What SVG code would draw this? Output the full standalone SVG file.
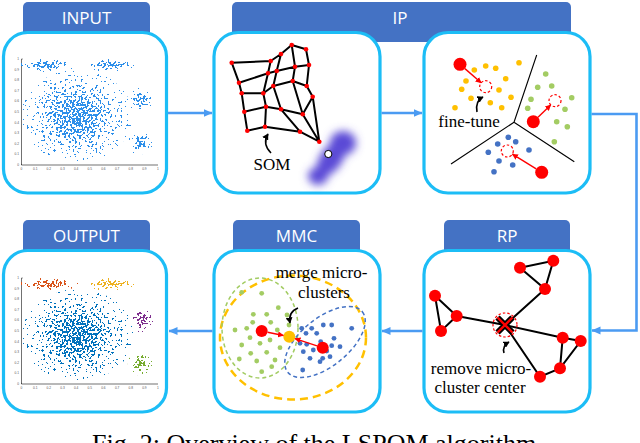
<svg xmlns="http://www.w3.org/2000/svg" width="640" height="443" viewBox="0 0 640 443">
<style>
.tab{fill:#4472C4}
.tabt{font-family:"Open Sans","Liberation Sans",sans-serif;font-size:17px;fill:#fff;text-anchor:middle}
.box{fill:#fff;stroke:#1CBDF6;stroke-width:3.2}
.con{fill:none;stroke:#4B9BF2;stroke-width:2.6}
.lab{font-size:17px;fill:#000;text-anchor:middle}
.ax{stroke:#333;stroke-width:0.7;fill:none}
.tk{font-family:"Liberation Sans",sans-serif;font-size:3.2px;fill:#555}
.tky{text-anchor:end}
.tkx{text-anchor:middle}
.som{fill:none;stroke:#000;stroke-width:2;stroke-linejoin:round}
.sn{fill:#F00}
.vl{stroke:#000;stroke-width:1.1}
.rd{fill:#F00}
.dc{fill:none;stroke:#F00;stroke-width:1.2;stroke-dasharray:2.5 2}
.ra{stroke:#F00;stroke-width:1.4;marker-end:url(#mr)}
.ca{fill:none;stroke:#000;stroke-width:1.6;marker-end:url(#mk)}
.od{fill:#FFC000}
.gd{fill:#A3CC63}
.bd{fill:#4472C4}
.eg{stroke:#000;stroke-width:2}
.cl{fill:url(#gA)}
</style>
<defs>
<marker id="ma" markerUnits="userSpaceOnUse" markerWidth="9" markerHeight="9" refX="8.5" refY="4.5" orient="auto"><path d="M0,0.5 L9,4.5 L0,8.5 z" fill="#4B9BF2"/></marker>
<marker id="mr" markerUnits="userSpaceOnUse" markerWidth="6" markerHeight="6" refX="5.5" refY="3" orient="auto"><path d="M0,0 L6,3 L0,6 z" fill="#F00"/></marker>
<marker id="mk" markerUnits="userSpaceOnUse" markerWidth="7" markerHeight="7" refX="5.5" refY="3.5" orient="auto"><path d="M0,0 L6,3.5 L0,7 z" fill="#000"/></marker>
<radialGradient id="gA"><stop offset="0" stop-color="#000" stop-opacity="1"/><stop offset=".35" stop-color="#000" stop-opacity=".72"/><stop offset=".6" stop-color="#000" stop-opacity=".4"/><stop offset=".85" stop-color="#000" stop-opacity=".16"/><stop offset="1" stop-color="#000" stop-opacity="0.06"/></radialGradient>
<filter id="sIn" filterUnits="userSpaceOnUse" x="0" y="0" width="640" height="443" color-interpolation-filters="sRGB">
<feTurbulence type="fractalNoise" baseFrequency="0.48" numOctaves="1" seed="7" result="n"/>
<feColorMatrix in="n" type="matrix" values="0 0 0 0 0  0 0 0 0 0  0 0 0 0 0  1 0 0 0 0" result="na"/>
<feComposite in="na" in2="SourceAlpha" operator="arithmetic" k2="1" k3="0.25" k4="-0.2" result="c"/>
<feComponentTransfer in="c" result="m"><feFuncA type="discrete" tableValues="0 1"/></feComponentTransfer>
<feComponentTransfer in="SourceAlpha" result="sa"><feFuncA type="linear" slope="40" intercept="-1"/></feComponentTransfer>
<feComposite in="m" in2="sa" operator="in" result="m2"/>
<feFlood flood-color="#2D8FEA"/>
<feComposite in2="m2" operator="in"/>
</filter>
<filter id="sBl" filterUnits="userSpaceOnUse" x="0" y="0" width="640" height="443" color-interpolation-filters="sRGB">
<feTurbulence type="fractalNoise" baseFrequency="0.48" numOctaves="1" seed="7" result="n"/>
<feColorMatrix in="n" type="matrix" values="0 0 0 0 0  0 0 0 0 0  0 0 0 0 0  1 0 0 0 0" result="na"/>
<feComposite in="na" in2="SourceAlpha" operator="arithmetic" k2="1" k3="0.25" k4="-0.2" result="c"/>
<feComponentTransfer in="c" result="m"><feFuncA type="discrete" tableValues="0 1"/></feComponentTransfer>
<feComponentTransfer in="SourceAlpha" result="sa"><feFuncA type="linear" slope="40" intercept="-1"/></feComponentTransfer>
<feComposite in="m" in2="sa" operator="in" result="m2"/>
<feFlood flood-color="#0072BD"/>
<feComposite in2="m2" operator="in"/>
</filter>
<filter id="sOr" filterUnits="userSpaceOnUse" x="0" y="0" width="640" height="443" color-interpolation-filters="sRGB">
<feTurbulence type="fractalNoise" baseFrequency="0.48" numOctaves="1" seed="7" result="n"/>
<feColorMatrix in="n" type="matrix" values="0 0 0 0 0  0 0 0 0 0  0 0 0 0 0  1 0 0 0 0" result="na"/>
<feComposite in="na" in2="SourceAlpha" operator="arithmetic" k2="1" k3="0.25" k4="-0.2" result="c"/>
<feComponentTransfer in="c" result="m"><feFuncA type="discrete" tableValues="0 1"/></feComponentTransfer>
<feComponentTransfer in="SourceAlpha" result="sa"><feFuncA type="linear" slope="40" intercept="-1"/></feComponentTransfer>
<feComposite in="m" in2="sa" operator="in" result="m2"/>
<feFlood flood-color="#D95319"/>
<feComposite in2="m2" operator="in"/>
</filter>
<filter id="sYe" filterUnits="userSpaceOnUse" x="0" y="0" width="640" height="443" color-interpolation-filters="sRGB">
<feTurbulence type="fractalNoise" baseFrequency="0.48" numOctaves="1" seed="7" result="n"/>
<feColorMatrix in="n" type="matrix" values="0 0 0 0 0  0 0 0 0 0  0 0 0 0 0  1 0 0 0 0" result="na"/>
<feComposite in="na" in2="SourceAlpha" operator="arithmetic" k2="1" k3="0.25" k4="-0.2" result="c"/>
<feComponentTransfer in="c" result="m"><feFuncA type="discrete" tableValues="0 1"/></feComponentTransfer>
<feComponentTransfer in="SourceAlpha" result="sa"><feFuncA type="linear" slope="40" intercept="-1"/></feComponentTransfer>
<feComposite in="m" in2="sa" operator="in" result="m2"/>
<feFlood flood-color="#EDB120"/>
<feComposite in2="m2" operator="in"/>
</filter>
<filter id="sPu" filterUnits="userSpaceOnUse" x="0" y="0" width="640" height="443" color-interpolation-filters="sRGB">
<feTurbulence type="fractalNoise" baseFrequency="0.48" numOctaves="1" seed="7" result="n"/>
<feColorMatrix in="n" type="matrix" values="0 0 0 0 0  0 0 0 0 0  0 0 0 0 0  1 0 0 0 0" result="na"/>
<feComposite in="na" in2="SourceAlpha" operator="arithmetic" k2="1" k3="0.25" k4="-0.2" result="c"/>
<feComponentTransfer in="c" result="m"><feFuncA type="discrete" tableValues="0 1"/></feComponentTransfer>
<feComponentTransfer in="SourceAlpha" result="sa"><feFuncA type="linear" slope="40" intercept="-1"/></feComponentTransfer>
<feComposite in="m" in2="sa" operator="in" result="m2"/>
<feFlood flood-color="#7E2F8E"/>
<feComposite in2="m2" operator="in"/>
</filter>
<filter id="sGr" filterUnits="userSpaceOnUse" x="0" y="0" width="640" height="443" color-interpolation-filters="sRGB">
<feTurbulence type="fractalNoise" baseFrequency="0.48" numOctaves="1" seed="7" result="n"/>
<feColorMatrix in="n" type="matrix" values="0 0 0 0 0  0 0 0 0 0  0 0 0 0 0  1 0 0 0 0" result="na"/>
<feComposite in="na" in2="SourceAlpha" operator="arithmetic" k2="1" k3="0.25" k4="-0.2" result="c"/>
<feComponentTransfer in="c" result="m"><feFuncA type="discrete" tableValues="0 1"/></feComponentTransfer>
<feComponentTransfer in="SourceAlpha" result="sa"><feFuncA type="linear" slope="40" intercept="-1"/></feComponentTransfer>
<feComposite in="m" in2="sa" operator="in" result="m2"/>
<feFlood flood-color="#77AC30"/>
<feComposite in2="m2" operator="in"/>
</filter>
<filter id="blur" x="-60%" y="-60%" width="220%" height="220%"><feGaussianBlur stdDeviation="4.5"/></filter>
<g id="axes">
<path class="ax" d="M21.5,59 V165 H158 M21.5,59 h1.2 M21.5,165 v-1.2"/>
<g class="tk tky">
<text x="19" y="60">1</text><text x="19" y="70.6">0.9</text><text x="19" y="81.2">0.8</text><text x="19" y="91.8">0.7</text><text x="19" y="102.4">0.6</text><text x="19" y="113">0.5</text><text x="19" y="123.6">0.4</text><text x="19" y="134.2">0.3</text><text x="19" y="144.8">0.2</text><text x="19" y="155.4">0.1</text><text x="19" y="166">0</text>
</g>
<g class="tk tkx">
<text x="21.5" y="170">0</text><text x="35.2" y="170">0.1</text><text x="48.8" y="170">0.2</text><text x="62.5" y="170">0.3</text><text x="76.1" y="170">0.4</text><text x="89.8" y="170">0.5</text><text x="103.4" y="170">0.6</text><text x="117.1" y="170">0.7</text><text x="130.7" y="170">0.8</text><text x="144.4" y="170">0.9</text><text x="158" y="170">1</text>
</g>
</g>
</defs>

<!-- tabs -->
<g id="tab-input"><rect class="tab" x="23" y="2" width="127" height="40" rx="5"/><text class="tabt" x="86.5" y="24">INPUT</text></g>
<g id="tab-ip"><rect class="tab" x="232" y="2" width="339" height="40" rx="5"/><text class="tabt" x="400" y="24">IP</text></g>
<g id="tab-output"><rect class="tab" x="23" y="220" width="127" height="40" rx="5"/><text class="tabt" x="86.5" y="242">OUTPUT</text></g>
<g id="tab-mmc"><rect class="tab" x="233" y="220" width="127" height="40" rx="5"/><text class="tabt" x="296.5" y="242">MMC</text></g>
<g id="tab-rp"><rect class="tab" x="444" y="220" width="126" height="40" rx="5"/><text class="tabt" x="507" y="242">RP</text></g>

<!-- INPUT -->
<g id="input">
<rect class="box" x="3.5" y="32.5" width="163" height="160.5" rx="24"/>
<use href="#axes"/>
<g filter="url(#sIn)">
<ellipse class="cl" cx="47" cy="65" rx="30" ry="7"/>
<ellipse class="cl" cx="110" cy="65" rx="25" ry="6.5"/>
<ellipse class="cl" cx="77" cy="116" rx="56" ry="46"/>
<ellipse class="cl" cx="141" cy="100" rx="11.5" ry="12.5"/>
<ellipse class="cl" cx="140" cy="143" rx="12.5" ry="11.5"/>
</g>
</g>

<!-- IP: SOM -->
<g id="ip-som">
<rect class="box" x="214" y="32.5" width="166" height="160.5" rx="24"/>
<g filter="url(#blur)" fill="#5A4AD6">
<ellipse cx="343" cy="143" rx="13" ry="12"/>
<ellipse cx="331" cy="159" rx="19" ry="11" transform="rotate(-55 331 159)"/>
<ellipse cx="318" cy="176" rx="10" ry="9"/>
</g>
<path class="som" d="M231.7,62.7 L270.7,61 L281,54 L291.7,45 L306,49.3
M239,82.7 L268,73.3 L276.7,71 L295,66.7 L309,65
M241.7,93.3 L263.3,93.3 L273.3,86 L292.7,81 L306.7,86
M244.3,111.7 L266,106.7 L281,109.3 L302.7,114.3 L312.7,96.7
M247.3,130.7 L265,126.7 L300,131.7 L319.3,141.7
M231.7,62.7 L239,82.7 L241.7,93.3 L244.3,111.7 L247.3,130.7
M270.7,61 L268,73.3 L263.3,93.3 L266,106.7 L265,126.7
M281,54 L276.7,71 L273.3,86 L281,109.3 L300,131.7
M291.7,45 L295,66.7 L292.7,81 L302.7,114.3 L319.3,141.7
M306,49.3 L309,65 L306.7,86 L312.7,96.7 L319.3,141.7"/>
<g class="sn">
<circle cx="231.7" cy="62.7" r="2.3"/><circle cx="270.7" cy="61" r="2.3"/><circle cx="281" cy="54" r="2.3"/><circle cx="291.7" cy="45" r="2.3"/><circle cx="306" cy="49.3" r="2.3"/>
<circle cx="239" cy="82.7" r="2.3"/><circle cx="268" cy="73.3" r="2.3"/><circle cx="276.7" cy="71" r="2.3"/><circle cx="295" cy="66.7" r="2.3"/><circle cx="309" cy="65" r="2.3"/>
<circle cx="241.7" cy="93.3" r="2.3"/><circle cx="263.3" cy="93.3" r="2.3"/><circle cx="273.3" cy="86" r="2.3"/><circle cx="292.7" cy="81" r="2.3"/><circle cx="306.7" cy="86" r="2.3"/>
<circle cx="244.3" cy="111.7" r="2.3"/><circle cx="266" cy="106.7" r="2.3"/><circle cx="281" cy="109.3" r="2.3"/><circle cx="302.7" cy="114.3" r="2.3"/><circle cx="312.7" cy="96.7" r="2.3"/>
<circle cx="247.3" cy="130.7" r="2.3"/><circle cx="265" cy="126.7" r="2.3"/><circle cx="300" cy="131.7" r="2.3"/><circle cx="319.3" cy="141.7" r="2.3"/>
</g>
<circle cx="328.3" cy="154" r="3.6" fill="#fff" stroke="#000" stroke-width="1"/>
<path class="ca" d="M271,153 Q262,144 268,134"/>
<text class="lab" x="272" y="170" font-family="Liberation Serif, Times New Roman, serif">SOM</text>
</g>

<!-- IP: fine-tune -->
<g id="ip-finetune">
<rect class="box" x="424" y="32.5" width="166" height="160.5" rx="24"/>
<path class="vl" d="M514,122.3 L536.7,55 M514,122.3 L451,164 M514,122.3 L574.3,161.7"/>
<g class="od">
<circle cx="474.3" cy="70" r="2.8"/><circle cx="485.7" cy="66" r="2.8"/><circle cx="495.7" cy="68.3" r="2.8"/><circle cx="519" cy="62.7" r="2.8"/><circle cx="466" cy="81" r="2.8"/><circle cx="505.7" cy="78.7" r="2.8"/><circle cx="461.7" cy="89.3" r="2.8"/><circle cx="499" cy="90" r="2.8"/><circle cx="471" cy="98.3" r="2.8"/><circle cx="490.3" cy="102.7" r="2.8"/><circle cx="511" cy="97.3" r="2.8"/><circle cx="501.7" cy="107.7" r="2.8"/><circle cx="455" cy="107.7" r="2.8"/>
</g>
<g class="gd">
<circle cx="545.7" cy="74" r="2.8"/><circle cx="551.7" cy="86" r="2.8"/><circle cx="537.7" cy="87.3" r="2.8"/><circle cx="531" cy="99.3" r="2.8"/><circle cx="571.7" cy="97.7" r="2.8"/><circle cx="527.7" cy="108.3" r="2.8"/><circle cx="565" cy="109.3" r="2.8"/><circle cx="556.7" cy="121.7" r="2.8"/><circle cx="567.3" cy="126.7" r="2.8"/><circle cx="554.3" cy="141.7" r="2.8"/>
</g>
<g class="bd">
<circle cx="508.3" cy="137.3" r="2.8"/><circle cx="515.7" cy="141.7" r="2.8"/><circle cx="497.7" cy="144" r="2.8"/><circle cx="488.3" cy="152.3" r="2.8"/><circle cx="529" cy="150" r="2.8"/><circle cx="499" cy="161" r="2.8"/><circle cx="512.7" cy="165" r="2.8"/><circle cx="494" cy="171.7" r="2.8"/>
</g>
<circle class="dc" cx="485.7" cy="86.7" r="6"/>
<circle class="dc" cx="555" cy="100.7" r="6"/>
<circle class="dc" cx="507.3" cy="151" r="6"/>
<circle class="rd" cx="460" cy="64.3" r="6.5"/>
<circle class="rd" cx="533.3" cy="121.7" r="6.5"/>
<circle class="rd" cx="541.7" cy="172.3" r="6.5"/>
<line class="ra" x1="464.9" y1="68.6" x2="481.2" y2="82.8"/>
<line class="ra" x1="538" y1="117.2" x2="550.7" y2="104.9"/>
<line class="ra" x1="536.2" y1="168.9" x2="512.4" y2="154.2"/>
<path class="ca" d="M477,112 Q475,101 483,97"/>
<text class="lab" x="469" y="127" font-family="Liberation Serif, Times New Roman, serif">fine-tune</text>
</g>

<!-- RP -->
<g id="rp">
<rect class="box" x="424" y="250.5" width="166" height="161.5" rx="24"/>
<path class="eg" fill="none" d="M520,267.7 L553.3,260.7 L545,289 Z M545,289 L505,325 M435,295.7 L456.7,316 L441,331 Z M456.7,316 L505,325 L562.7,337.7 M562.7,337.7 L580.7,341 L560,368.3 Z M560,368.3 L540,376.7 L505,325"/>
<g class="rd">
<circle cx="553.3" cy="260.7" r="6"/><circle cx="520" cy="267.7" r="6"/><circle cx="545" cy="289" r="6"/><circle cx="435" cy="295.7" r="6"/><circle cx="456.7" cy="316" r="6"/><circle cx="441" cy="331" r="6"/><circle cx="562.7" cy="337.7" r="6"/><circle cx="580.7" cy="341" r="6"/><circle cx="560" cy="368.3" r="6"/><circle cx="540" cy="376.7" r="6"/>
</g>
<circle class="dc" cx="505" cy="325" r="12"/>
<path d="M497.5,317.5 L512.5,332.5 M512.5,317.5 L497.5,332.5" stroke="#000" stroke-width="6"/>
<path d="M497.5,317.5 L512.5,332.5 M512.5,317.5 L497.5,332.5" stroke="#F00" stroke-width="2.4"/>
<path class="ca" d="M504,353 Q502,346 509,342"/>
<text class="lab" x="481" y="374" font-family="Liberation Serif, Times New Roman, serif">remove micro-</text>
<text class="lab" x="480" y="393" font-family="Liberation Serif, Times New Roman, serif">cluster center</text>
</g>

<!-- MMC -->
<g id="mmc">
<rect class="box" x="214" y="250.5" width="166" height="161.5" rx="24"/>
<ellipse cx="293" cy="337.5" rx="73" ry="62" fill="none" stroke="#FFC000" stroke-width="2.5" stroke-dasharray="8 5"/>
<ellipse cx="260" cy="328" rx="38" ry="50" fill="none" stroke="#A3CC63" stroke-width="1.5" stroke-dasharray="4 3"/>
<ellipse cx="325" cy="342" rx="48" ry="24" transform="rotate(-39 325 342)" fill="none" stroke="#4472C4" stroke-width="1.5" stroke-dasharray="4 3"/>
<g class="gd">
<circle cx="241.7" cy="292.3" r="2.4"/><circle cx="261.7" cy="293.3" r="2.4"/><circle cx="253.3" cy="314.3" r="2.4"/><circle cx="278.3" cy="307.7" r="2.4"/><circle cx="266.7" cy="314.3" r="2.4"/><circle cx="235" cy="330" r="2.4"/><circle cx="246.7" cy="328.3" r="2.4"/><circle cx="252.7" cy="322.3" r="2.4"/><circle cx="270.7" cy="322.3" r="2.4"/><circle cx="277.3" cy="330" r="2.4"/><circle cx="250" cy="337.7" r="2.4"/><circle cx="270" cy="340" r="2.4"/><circle cx="241.7" cy="345" r="2.4"/><circle cx="260" cy="343.3" r="2.4"/><circle cx="280" cy="347.7" r="2.4"/><circle cx="250.7" cy="353.3" r="2.4"/><circle cx="266.7" cy="352.3" r="2.4"/><circle cx="275" cy="360" r="2.4"/><circle cx="239.3" cy="359" r="2.4"/><circle cx="256.7" cy="361" r="2.4"/><circle cx="271.7" cy="366.7" r="2.4"/><circle cx="261.7" cy="371.7" r="2.4"/><circle cx="287" cy="315" r="2.4"/><circle cx="289" cy="325" r="2.4"/>
</g>
<g class="bd">
<circle cx="301.7" cy="328.3" r="2.4"/><circle cx="311.7" cy="328.3" r="2.4"/><circle cx="323.3" cy="325" r="2.4"/><circle cx="331.7" cy="325" r="2.4"/><circle cx="351.7" cy="328.3" r="2.4"/><circle cx="306" cy="333.3" r="2.4"/><circle cx="316.7" cy="333.3" r="2.4"/><circle cx="334" cy="338.3" r="2.4"/><circle cx="320.7" cy="341.7" r="2.4"/><circle cx="300" cy="343.3" r="2.4"/><circle cx="306.7" cy="344.3" r="2.4"/><circle cx="331.7" cy="345.7" r="2.4"/><circle cx="340" cy="346.7" r="2.4"/><circle cx="303.3" cy="351.7" r="2.4"/><circle cx="313.3" cy="350" r="2.4"/><circle cx="326.7" cy="351" r="2.4"/><circle cx="330" cy="356.7" r="2.4"/><circle cx="310" cy="358.3" r="2.4"/><circle cx="322.7" cy="358.3" r="2.4"/><circle cx="302.7" cy="370" r="2.4"/><circle cx="320" cy="361.7" r="2.4"/>
</g>
<circle class="rd" cx="261.7" cy="331" r="6"/>
<circle class="rd" cx="322.7" cy="347.7" r="6"/>
<circle class="od" cx="289.3" cy="336.7" r="6"/>
<line class="ra" x1="267.6" y1="332.2" x2="283.4" y2="335.5"/>
<line class="ra" x1="317" y1="345.8" x2="295" y2="338.6"/>
<path class="ca" d="M298,308 Q288,312 290,323"/>
<text class="lab" x="321.5" y="278" font-family="Liberation Serif, Times New Roman, serif">merge micro-</text>
<text class="lab" x="324" y="298" font-family="Liberation Serif, Times New Roman, serif">clusters</text>
</g>

<!-- OUTPUT -->
<g id="output">
<rect class="box" x="3.5" y="250.5" width="163" height="161.5" rx="24"/>
<g transform="translate(0,219)">
<use href="#axes"/>
<ellipse class="cl" cx="49" cy="65" rx="30" ry="7" filter="url(#sOr)"/>
<ellipse class="cl" cx="110" cy="65" rx="25" ry="6.5" filter="url(#sYe)"/>
<ellipse class="cl" cx="78" cy="116" rx="56" ry="46" filter="url(#sBl)"/>
<ellipse class="cl" cx="142" cy="101" rx="11.5" ry="12.5" filter="url(#sPu)"/>
<ellipse class="cl" cx="140" cy="145" rx="12.5" ry="11.5" filter="url(#sGr)"/>
</g>
</g>

<!-- connectors -->
<g id="connectors">
<path class="con" d="M168,113 H212" marker-end="url(#ma)"/>
<path class="con" d="M381.5,113 H422" marker-end="url(#ma)"/>
<path class="con" d="M591.5,114 H636.5 V330.5 H592" marker-end="url(#ma)"/>
<path class="con" d="M422.5,331 H382" marker-end="url(#ma)"/>
<path class="con" d="M212.5,331 H169" marker-end="url(#ma)"/>
</g>

<text x="92" y="452" font-family="Liberation Serif, Times New Roman, serif" font-size="26" fill="#000">Fig. 2: Overview of the LSPOM algorithm</text>
</svg>
